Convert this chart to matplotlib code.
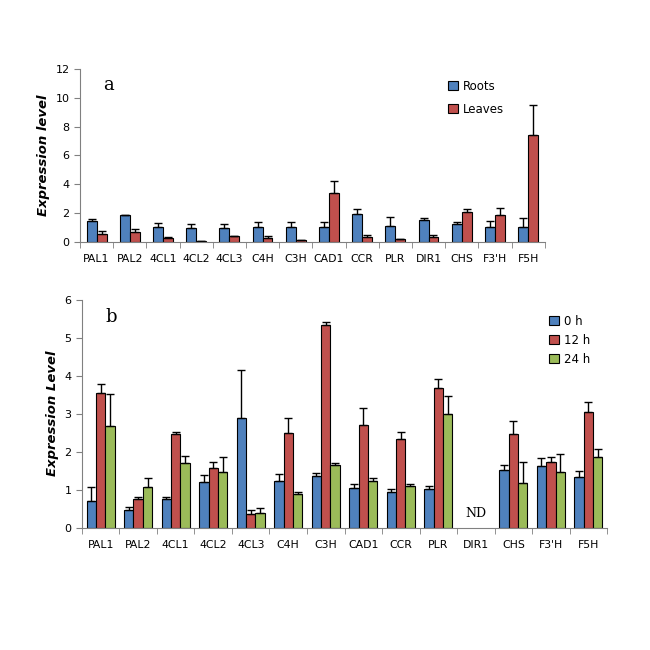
import numpy as np
import matplotlib
matplotlib.use("Agg")
import matplotlib.pyplot as plt

# --- data, panel a ---
genes_a = ["PAL1", "PAL2", "4CL1", "4CL2", "4CL3", "C4H", "C3H", "CAD1",
           "CCR", "PLR", "DIR1", "CHS", "F3'H", "F5H"]
roots = [1.46, 1.83, 1.04, 0.97, 0.97, 1.04, 1.04, 1.04, 1.94, 1.11, 1.53, 1.25, 1.04, 1.04]
roots_err = [0.14, 0.04, 0.28, 0.28, 0.28, 0.35, 0.35, 0.35, 0.35, 0.62, 0.13, 0.11, 0.42, 0.62]
leaves = [0.51, 0.67, 0.25, 0.05, 0.37, 0.28, 0.12, 3.40, 0.35, 0.16, 0.35, 2.08, 1.87, 7.42]
leaves_err = [0.23, 0.23, 0.05, 0.0, 0.05, 0.14, 0.02, 0.80, 0.11, 0.03, 0.11, 0.21, 0.49, 2.08]

# --- data, panel b (DIR1 not detected) ---
genes_b = genes_a
h0 = [0.70, 0.48, 0.75, 1.21, 2.89, 1.23, 1.37, 1.05, 0.95, 1.02, 0, 1.52, 1.63, 1.34]
h0_err = [0.37, 0.06, 0.06, 0.17, 1.26, 0.19, 0.08, 0.11, 0.07, 0.07, 0, 0.13, 0.20, 0.15]
h12 = [3.54, 0.77, 2.47, 1.58, 0.35, 2.50, 5.33, 2.71, 2.34, 3.68, 0, 2.47, 1.73, 3.05]
h12_err = [0.23, 0.03, 0.04, 0.15, 0.11, 0.39, 0.08, 0.44, 0.18, 0.23, 0, 0.33, 0.14, 0.26]
h24 = [2.69, 1.08, 1.71, 1.47, 0.38, 0.88, 1.65, 1.23, 1.10, 3.00, 0, 1.18, 1.47, 1.87]
h24_err = [0.83, 0.23, 0.19, 0.40, 0.15, 0.07, 0.06, 0.07, 0.05, 0.47, 0, 0.55, 0.47, 0.20]

BLUE, RED, GREEN = "#4F81BD", "#C0504D", "#9BBB59"

fig = plt.figure(figsize=(6.5, 6.5), dpi=100)


def style_axes(ax, n, ymax, step):
    for s in ["top", "right"]:
        ax.spines[s].set_visible(False)
    for s in ["left", "bottom"]:
        ax.spines[s].set_color("#808080")
    ax.set_xlim(-0.5, n - 0.5)
    ax.set_ylim(0, ymax)
    ax.set_yticks(np.arange(0, ymax + 0.01, step))
    ax.set_xticks(np.arange(n))
    ax.set_xticks(np.arange(n + 1) - 0.5, minor=True)
    ax.tick_params(axis="x", which="major", length=0, labelsize=7.8, pad=9)
    ax.tick_params(axis="x", which="minor", length=4, color="#808080", direction="out")
    ax.tick_params(axis="y", length=4, color="#808080", labelsize=8, direction="out")


def bar(ax, x, vals, errs, w, color, label):
    vals = np.asarray(vals, float)
    errs = np.asarray(errs, float)
    keep = vals > 0
    ax.bar(x[keep], vals[keep], w, color=color, edgecolor="black", linewidth=0.8,
           label=label, yerr=[np.zeros(keep.sum()), errs[keep]],
           error_kw=dict(ecolor="black", elinewidth=1, capsize=3, capthick=1))


# ---- panel a ----
ax1 = fig.add_axes([0.123, 0.628, 0.715, 0.266])
x = np.arange(len(genes_a))
w = 0.3
bar(ax1, x - w / 2, roots, roots_err, w, BLUE, "Roots")
bar(ax1, x + w / 2, leaves, leaves_err, w, RED, "Leaves")
style_axes(ax1, len(genes_a), 12, 2)
ax1.set_xticklabels(genes_a)
ax1.set_ylabel("Expression level", fontstyle="italic", fontweight="bold", fontsize=9.5)
ax1.text(0.05, 0.88, "a", transform=ax1.transAxes, family="serif", fontsize=13)
ax1.legend(loc="upper left", bbox_to_anchor=(0.77, 1.0),
           frameon=False, fontsize=8.5, handlelength=0.8, handleheight=0.8,
           handletextpad=0.4, labelspacing=0.85)

# ---- panel b ----
ax2 = fig.add_axes([0.126, 0.188, 0.808, 0.351])
x = np.arange(len(genes_b))
w = 0.25
bar(ax2, x - w, h0, h0_err, w, BLUE, "0 h")
bar(ax2, x, h12, h12_err, w, RED, "12 h")
bar(ax2, x + w, h24, h24_err, w, GREEN, "24 h")
style_axes(ax2, len(genes_b), 6, 1)
ax2.set_xticklabels(genes_b)
ax2.set_ylabel("Expression Level", fontstyle="italic", fontweight="bold", fontsize=9.5)
ax2.text(0.045, 0.9, "b", transform=ax2.transAxes, family="serif", fontsize=13)
ax2.text(genes_b.index("DIR1"), 0.2, "ND", family="serif", fontsize=9, ha="center", va="bottom")
ax2.legend(loc="upper left", bbox_to_anchor=(0.87, 0.98),
           frameon=False, fontsize=8.5, handlelength=0.8, handleheight=0.8,
           handletextpad=0.4, labelspacing=0.5)

fig.savefig("out.png", dpi=100)
